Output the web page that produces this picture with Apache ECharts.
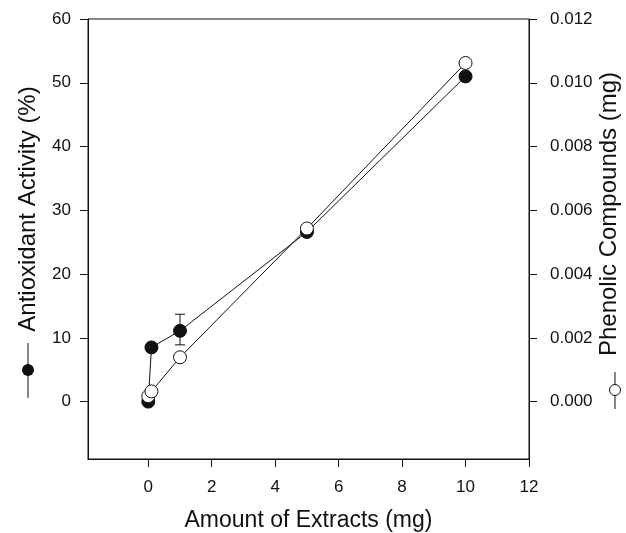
<!DOCTYPE html>
<html>
<head>
<meta charset="utf-8">
<script src="https://cdn.jsdelivr.net/npm/echarts@6/dist/echarts.min.js"></script>
<style>
  html, body { margin: 0; padding: 0; background: #fff; }
  #charts { width: 626px; height: 533px; }
</style>
</head>
<body>
<div id="charts"></div>
<script>
// amount of extracts (mg)
var extractAmounts = [0, 0.1, 1, 5, 10]
// antioxidant activity (%), filled circles, left axis
var antioxidant = [0, 8.5, 11.1, 26.6, 51.0]
// error bar on the 1 mg point
var errX = [1]
var errLow = [8.9]
var errHigh = [13.7]
// phenolic compounds (mg), open circles, right axis
var phenolic = [0.00017, 0.00032, 0.00139, 0.00543, 0.01062]

var xTicks = [0, 2, 4, 6, 8, 10, 12]
var leftTicks = [0, 10, 20, 30, 40, 50, 60]
var rightTicks = [0, 0.002, 0.004, 0.006, 0.008, 0.010, 0.012]

var font = '"Liberation Sans", Arial, sans-serif'
var ink = '#111'

function pairs(xs, ys) {
    return xs.map(function (x, i) { return [x, ys[i]] })
}

var myCharts = echarts.init(document.getElementById('charts'))
myCharts.setOption({
    animation: false,
    textStyle: { fontFamily: font, color: ink },
    grid: {
        left: 88, right: 97, top: 19, bottom: 74,
        show: true, borderColor: ink, borderWidth: 1,
        containLabel: false, outerBoundsMode: 'none'
    },
    xAxis: {
        type: 'value', min: -1.9, max: 12,
        name: 'Amount of Extracts (mg)', nameLocation: 'middle', nameGap: 50,
        nameTextStyle: { fontSize: 23, color: ink, fontFamily: font },
        axisLine: { onZero: false, lineStyle: { color: ink, width: 1 } },
        axisTick: { show: true, length: 8, lineStyle: { color: ink }, customValues: xTicks },
        axisLabel: { fontSize: 17, color: ink, margin: 20, customValues: xTicks },
        splitLine: { show: false }
    },
    yAxis: [{
        type: 'value', min: -9, max: 60, position: 'left',
        axisLine: { show: true, onZero: false, lineStyle: { color: ink, width: 1 } },
        axisTick: { show: true, length: 8, lineStyle: { color: ink }, customValues: leftTicks },
        axisLabel: { fontSize: 17, color: ink, margin: 17, customValues: leftTicks },
        splitLine: { show: false }
    }, {
        type: 'value', min: -0.0018, max: 0.012, position: 'right',
        axisLine: { show: true, onZero: false, lineStyle: { color: ink, width: 1 } },
        axisTick: { show: true, length: 8, lineStyle: { color: ink }, customValues: rightTicks },
        axisLabel: {
            fontSize: 17, color: ink, margin: 21, customValues: rightTicks,
            formatter: function (v) { return v.toFixed(3) }
        },
        splitLine: { show: false }
    }],
    graphic: [
        // left axis title + its symbol
        {
            type: 'text', x: 28, y: 209, rotation: Math.PI / 2,
            style: { text: 'Antioxidant Activity (%)', font: '24px ' + font, fill: ink, align: 'center', verticalAlign: 'middle' }
        },
        { type: 'line', shape: { x1: 28, y1: 343, x2: 28, y2: 398 }, style: { stroke: ink, lineWidth: 1 } },
        { type: 'circle', shape: { cx: 28, cy: 370, r: 6 }, style: { fill: ink } },
        // right axis title + its symbol
        {
            type: 'text', x: 609, y: 214, rotation: Math.PI / 2,
            style: { text: 'Phenolic Compounds (mg)', font: '24px ' + font, fill: ink, align: 'center', verticalAlign: 'middle' }
        },
        { type: 'line', shape: { x1: 615, y1: 372, x2: 615, y2: 409 }, style: { stroke: ink, lineWidth: 1 } },
        { type: 'circle', shape: { cx: 615, cy: 390, r: 5.5 }, style: { fill: '#fff', stroke: ink, lineWidth: 1 } }
    ],
    series: [{
        type: 'custom',
        name: 'error',
        yAxisIndex: 0,
        z: 1,
        data: errX.map(function (x, i) { return [x, errLow[i], errHigh[i]] }),
        renderItem: function (params, api) {
            var top = api.coord([api.value(0), api.value(2)])
            var bot = api.coord([api.value(0), api.value(1)])
            var w = 5
            var st = { stroke: ink, lineWidth: 1 }
            return {
                type: 'group',
                children: [
                    { type: 'line', shape: { x1: top[0], y1: top[1], x2: bot[0], y2: bot[1] }, style: st },
                    { type: 'line', shape: { x1: top[0] - w, y1: top[1], x2: top[0] + w, y2: top[1] }, style: st },
                    { type: 'line', shape: { x1: bot[0] - w, y1: bot[1], x2: bot[0] + w, y2: bot[1] }, style: st }
                ]
            }
        }
    }, {
        type: 'line',
        name: 'Antioxidant Activity',
        yAxisIndex: 0,
        z: 2,
        data: pairs(extractAmounts, antioxidant),
        symbol: 'circle', symbolSize: 13,
        itemStyle: { color: ink, borderColor: ink, borderWidth: 1 },
        lineStyle: { color: ink, width: 1 }
    }, {
        type: 'line',
        name: 'Phenolic Compounds',
        yAxisIndex: 1,
        z: 3,
        data: pairs(extractAmounts, phenolic),
        symbol: 'circle', symbolSize: 13,
        itemStyle: { color: '#fff', borderColor: ink, borderWidth: 1 },
        lineStyle: { color: ink, width: 1 }
    }]
})
</script>
</body>
</html>
